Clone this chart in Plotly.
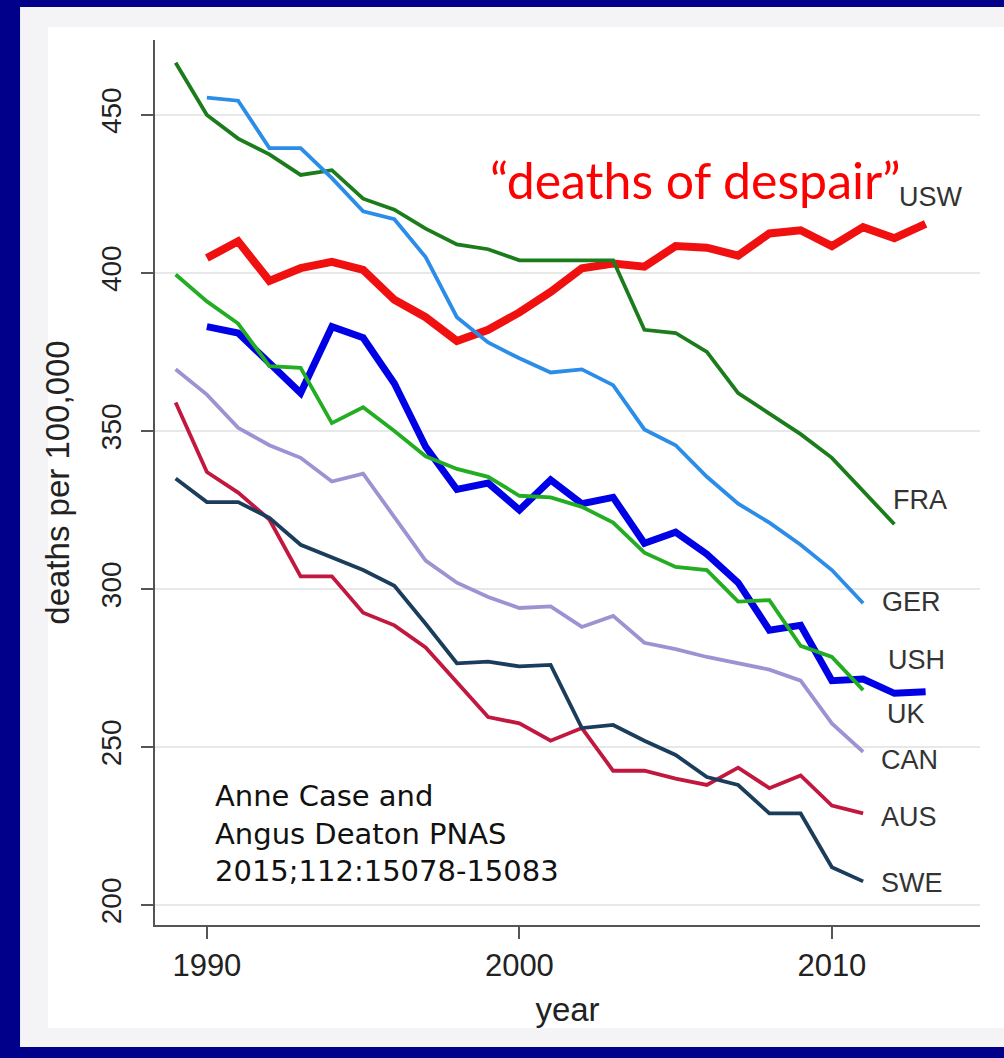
import plotly.graph_objects as go

# ---------------- data ----------------
years_usw = list(range(1990, 2014))
usw = [404.7, 410, 397.5, 401.5, 403.5, 401, 391.5, 386, 378.5, 382, 387.5, 394,
       401.5, 403, 402, 408.5, 408, 405.5, 412.5, 413.5, 408.5, 414.5, 411, 415.5]

years_ush = list(range(1990, 2014))
ush = [383, 381, 371.5, 362, 383, 379.5, 365, 345, 331.5, 333.5, 325, 334.5,
       327, 329, 314.5, 318, 311, 302, 287, 288.5, 271, 271.5, 267, 267.5]

years_fra = list(range(1989, 2013))
fra = [466.5, 450, 442.5, 437.5, 431, 432.5, 423.5, 420, 414, 409, 407.5, 404,
       404, 404, 404, 382, 381, 375, 362, 355.5, 349, 341.5, 331, 320.5]

years_ger = list(range(1990, 2012))
ger = [455.5, 454.5, 439.5, 439.5, 430, 419.5, 417, 405, 386, 378, 373, 368.5,
       369.5, 364.5, 350.5, 345.5, 335.5, 327, 321, 314, 306, 295.5]

years_uk = list(range(1989, 2012))
uk = [399.5, 391, 384, 370.5, 370, 352.5, 357.5, 350, 342, 338, 335.5, 329.5,
      329, 326, 321, 311.5, 307, 306, 296, 296.5, 282, 278.5, 268]

years_can = list(range(1989, 2012))
can = [369.5, 361.5, 351, 345.5, 341.5, 334, 336.5, 323, 309, 302, 297.5, 294,
       294.5, 288, 291.5, 283, 281, 278.5, 276.5, 274.5, 271, 257.5, 248.5]

years_aus = list(range(1989, 2012))
aus = [359, 337, 330.5, 322, 304, 304, 292.5, 288.5, 281.5, 270.5, 259.5, 257.5,
       252, 256, 242.5, 242.5, 240, 238, 243.5, 237, 241, 231.5, 229]

years_swe = list(range(1989, 2012))
swe = [335, 327.5, 327.5, 322.5, 314, 310, 306, 301, 289, 276.5, 277, 275.5,
       276, 256, 257, 252, 247.5, 240.5, 238, 229, 229, 212, 207.5]

series_names = ["USW", "USH", "FRA", "GER", "UK", "CAN", "AUS", "SWE"]
x_ticks = [1990, 2000, 2010]
y_ticks = [200, 250, 300, 350, 400, 450]

citation_lines = ["Anne Case and", "Angus Deaton PNAS", "2015;112:15078-15083"]
headline = "\u201cdeaths of despair\u201d"

# ---------------- styling ----------------
series = [
    ("USW", years_usw, usw, "#f01010", 8),
    ("USH", years_ush, ush, "#0000e6", 7),
    ("FRA", years_fra, fra, "#1b7c1b", 3.8),
    ("GER", years_ger, ger, "#2b8de8", 3.8),
    ("UK", years_uk, uk, "#23ad23", 3.8),
    ("CAN", years_can, can, "#9d92d2", 3.8),
    ("AUS", years_aus, aus, "#c2173f", 3.8),
    ("SWE", years_swe, swe, "#1b3d5c", 3.8),
]

fig = go.Figure()
for name, xs, ys, col, w in series:
    fig.add_trace(go.Scatter(x=xs, y=ys, mode="lines", name=name,
                             line=dict(color=col, width=w),
                             showlegend=False, hoverinfo="skip"))

# line-end labels (positions only)
label_pos = {
    "USW": (2012.08, 424.0),
    "FRA": (2011.89, 328.2),
    "GER": (2011.54, 295.9),
    "USH": (2011.73, 277.5),
    "UK": (2011.70, 260.4),
    "CAN": (2011.50, 245.9),
    "AUS": (2011.50, 227.8),
    "SWE": (2011.50, 207.0),
}
annotations = []
for name in series_names:
    lx, ly = label_pos[name]
    annotations.append(dict(x=lx, y=ly, xref="x", yref="y", text=name,
                            showarrow=False, xanchor="left", yanchor="middle",
                            font=dict(family="Liberation Sans", size=27, color="#333333")))

annotations.append(dict(x=2005.62, y=429.4, xref="x", yref="y", text=headline,
                        showarrow=False, xanchor="center", yanchor="middle",
                        font=dict(family="Lato", size=50, color="#ff0000")))

annotations.append(dict(x=1990.2, y=222.8, xref="x", yref="y",
                        text="<br>".join(citation_lines),
                        showarrow=False, xanchor="left", yanchor="middle", align="left",
                        font=dict(family="DejaVu Sans", size=29, color="#111111")))

# frame / background panels
shapes = [
    dict(type="rect", xref="paper", yref="paper", x0=-0.1636, x1=1.05, y0=-0.1379, y1=1.0373,
         fillcolor="#f4f4f7", line=dict(width=0), layer="below"),
    dict(type="rect", xref="paper", yref="paper", x0=-0.1297, x1=1.05, y0=-0.1164, y1=1.0147,
         fillcolor="#ffffff", line=dict(width=0), layer="below"),
]

fig.update_layout(
    width=1004, height=1058,
    margin=dict(l=155, r=24, t=40, b=133),
    paper_bgcolor="#00008b",
    plot_bgcolor="#ffffff",
    shapes=shapes,
    annotations=annotations,
    xaxis=dict(range=[1988.34, 2014.74], tickvals=x_ticks, ticks="outside", ticklen=12,
               tickwidth=2, tickcolor="#555555", showline=True, linecolor="#555555",
               linewidth=2, showgrid=False, zeroline=False,
               tickfont=dict(family="Liberation Sans", size=31, color="#222222"),
               title=dict(text="year", font=dict(family="Liberation Sans", size=33, color="#222222"),
                          standoff=16)),
    yaxis=dict(range=[193.7, 473.7], tickvals=y_ticks, ticks="outside", ticklen=12,
               tickwidth=2, tickcolor="#555555", showline=True, linecolor="#555555",
               linewidth=2, showgrid=True, gridcolor="#e8e8e8", gridwidth=2, zeroline=False,
               tickangle=-90, ticklabelstandoff=9,
               tickfont=dict(family="Liberation Sans", size=28, color="#222222"),
               title=dict(text="deaths per 100,000",
                          font=dict(family="Liberation Sans", size=33, color="#222222"),
                          standoff=16)),
)

fig.write_html("out.html",
               config={"displayModeBar": False},
               post_script="document.body.style.margin='0';"
                           "document.body.style.overflow='hidden';"
                           "document.body.style.background='#f4f4f7';")
